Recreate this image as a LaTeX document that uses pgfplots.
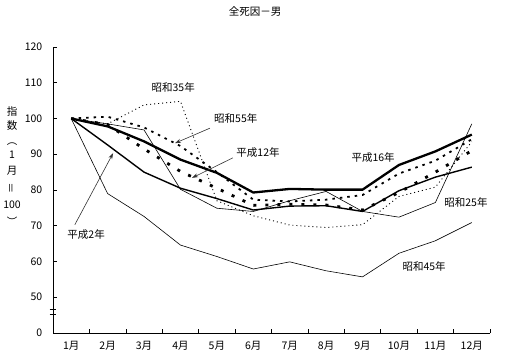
\documentclass[border=0pt]{standalone}
\usepackage{fontspec}
\setmainfont{Noto Sans CJK JP}
\usepackage{pgfplots}
\pgfplotsset{compat=1.18}
\usetikzlibrary{arrows.meta}
\pgfplotstableread{
m S25 S35 S45 S55 H2 H12 H16
1 100 100 100 100 100 100 100
2 98.5 98.5 79.0 100.5 92.6 98.3 97.8
3 96.8 103.8 72.6 97.5 85.0 91.5 93.6
4 80.2 104.8 64.6 92.3 80.5 85.2 88.5
5 74.9 77.0 61.4 85.0 77.6 80.5 84.8
6 74.0 72.8 57.9 77.3 74.4 75.7 79.3
7 77.0 70.2 59.9 76.8 75.5 76.0 80.3
8 79.6 69.5 57.4 77.3 75.6 75.8 80.1
9 74.0 70.3 55.7 78.6 74.0 74.4 80.1
10 72.4 78.2 62.3 84.6 79.8 79.3 87.0
11 76.5 80.8 65.8 88.2 83.6 85.0 90.8
12 98.5 93.5 70.9 94.2 86.4 91.0 95.5
}\datatable
\begin{document}
\fontsize{10.5bp}{12bp}\selectfont
\begin{tikzpicture}
\path[use as bounding box] (0,0) rectangle (505bp,364bp);
\node at (255bp,352bp) {全死因－男};
% vertical y label
\node at (12bp,252bp) {指};
\node at (12bp,238bp) {数};
\node[rotate=-90] at (12bp,223bp) {（};
\node at (12bp,209bp) {1};
\node at (12bp,193bp) {月};
\node[rotate=90] at (12bp,176bp) {＝};
\node at (12bp,159bp) {100};
\node[rotate=-90] at (12bp,142bp) {）};
\begin{axis}[at={(53bp,31bp)}, anchor=south west, scale only axis,
  width=437bp, height=286bp,
  xmin=0.5, xmax=12.5, ymin=40, ymax=120,
  axis x line=bottom, axis y line=left, axis line style={-, line width=0.8bp},
  clip=false,
  xtick={1,...,12},
  xticklabels={1月,2月,3月,4月,5月,6月,7月,8月,9月,10月,11月,12月},
  major x tick style={draw=none},
  minor xtick={1.5,2.5,...,12.5},
  ytick={40,50,...,120},
  yticklabels={0,50,60,70,80,90,100,110,120},
  tick align=inside, major tick length=4bp, minor tick length=4bp,
  tick style={black, line width=0.6bp},
  /pgf/number format/assume math mode=true,
  ticklabel style={font=\fontsize{10.5bp}{12bp}\selectfont},
  xticklabel style={yshift=-5bp},
  yticklabel style={xshift=-7bp},
]
\addplot[black, line width=0.6bp] table[x=m,y=S25] {\datatable};
\addplot[black, line width=0.9bp, dash pattern=on 1bp off 3bp] table[x=m,y=S35] {\datatable};
\addplot[black, line width=0.6bp] table[x=m,y=S45] {\datatable};
\addplot[black, line width=1.8bp, dash pattern=on 2.5bp off 5bp] table[x=m,y=S55] {\datatable};
\addplot[black, line width=1.4bp] table[x=m,y=H2] {\datatable};
\addplot[black, line width=2.8bp, dash pattern=on 3bp off 9bp] table[x=m,y=H12] {\datatable};
\addplot[black, line width=2.3bp] table[x=m,y=H16] {\datatable};
% labels
\node at (axis cs:3.80,108.8) {昭和35年};
\node at (axis cs:5.52,100.1) {昭和55年};
\draw[black!80, line width=0.6bp, -{Stealth[length=6bp,width=4bp]}] (axis cs:4.81,97.3) -- (axis cs:3.85,93.1);
\node at (axis cs:6.13,90.35) {平成12年};
\draw[black!80, line width=0.6bp, -{Stealth[length=6bp,width=4bp]}] (axis cs:5.44,89.0) -- (axis cs:4.32,83.4);
\node at (axis cs:9.29,89.0) {平成16年};
\node at (axis cs:11.84,76.6) {昭和25年};
\node at (axis cs:10.69,58.5) {昭和45年};
\node at (axis cs:1.41,67.5) {平成2年};
\draw[black!80, line width=0.6bp, -{Stealth[length=6bp,width=4bp]}] (axis cs:1.10,70.3) -- (axis cs:2.15,90.3);
% axis break
\draw[line width=0.6bp] (axis cs:0.41,45.2) -- (axis cs:0.57,45.2);
\draw[line width=0.6bp] (axis cs:0.41,46.6) -- (axis cs:0.57,46.6);
\end{axis}
\end{tikzpicture}
\end{document}
